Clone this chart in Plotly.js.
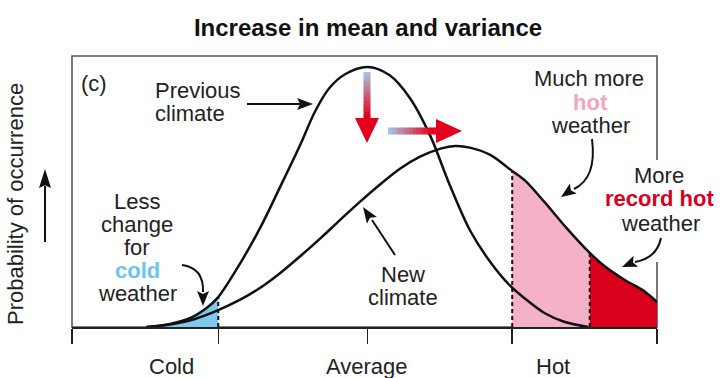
<!DOCTYPE html>
<html><head><meta charset="utf-8">
<script src="https://cdn.plot.ly/plotly-3.0.1.min.js"></script>
<style>html,body{margin:0;padding:0;background:#fff}#chart{width:720px;height:378px}</style>
</head><body><div id="chart"></div>
<script>
// Temperature axis (arbitrary units, Average = 0) and probability of occurrence (previous peak = 100)
const prevX = [-1.49,-1.33,-1.19,-1.08,-1.00,-0.85,-0.71,-0.58,-0.44,-0.34,-0.24,-0.13,0.02,0.17,0.31,0.45,0.58,0.72,0.86,0.99,1.10,1.23,1.37,1.53];
const prevY = [0,1.2,3.5,7.3,11.5,24.5,38.5,53.5,70.0,82.7,91.9,97.3,100,96.9,88.1,73.5,55.0,37.3,25.0,16.2,10.8,5.4,1.9,0];
const newX = [-1.49,-1.33,-1.16,-1.00,-0.85,-0.71,-0.58,-0.44,-0.30,-0.17,-0.03,0.11,0.24,0.38,0.52,0.62,0.72,0.86,1.01,1.10,1.23,1.37,1.54,1.64,1.78,1.92,2.00];
const newY = [0,1.0,3.1,6.5,10.5,15.2,20.6,27.2,34.2,41.0,48.2,55.0,60.8,65.5,68.6,69.6,69.0,66.2,60.0,56.2,48.1,38.8,28.5,23.5,18.1,13.5,9.6];
// Category thresholds on the temperature axis
const coldEdge = -1.00, hotEdge = 1.01, recordEdge = 1.54;
const tickPositions = [-2, -1.00, 0.02, 1.01, 2];
const categoryLabels = ['Cold', 'Average', 'Hot'];
const categoryLabelX = [-1.32, 0.02, 1.29];

const FONT = 'Liberation Sans, Arial, sans-serif';
const TXT = '#222';
// pixel -> paper helpers (plot area 72..657 x 56..327)
const L = 72, R = 63, T = 56, B = 51, W = 720, H = 378;
const PW = W - L - R, PH = H - T - B;
const px = x => (x - L) / PW;
const py = y => (H - B - y) / PH;

function pick(xs, ys, lo, hi) {
  const X = [], Y = [];
  xs.forEach((x, i) => { if (x >= lo - 1e-9 && x <= hi + 1e-9) { X.push(x); Y.push(ys[i]); } });
  return {X, Y};
}
const valueAt = (xs, ys, x) => ys[xs.indexOf(x)];
const SPL = {shape: 'spline', smoothing: 0.9};

const cold = pick(prevX, prevY, -9, coldEdge);
const hot = pick(newX, newY, hotEdge, recordEdge);
const rec = pick(newX, newY, recordEdge, 9);

const traces = [
  {x: cold.X, y: cold.Y, mode: 'lines', line: Object.assign({width: 0}, SPL), fill: 'tozeroy', fillcolor: '#80C9EE'},
  {x: hot.X, y: hot.Y, mode: 'lines', line: Object.assign({width: 0}, SPL), fill: 'tozeroy', fillcolor: '#F5B1C7'},
  {x: rec.X, y: rec.Y, mode: 'lines', line: Object.assign({width: 0}, SPL), fill: 'tozeroy', fillcolor: '#D8001C'},
  {x: [coldEdge, coldEdge], y: [0, valueAt(prevX, prevY, coldEdge)], mode: 'lines', line: {color: '#111', width: 2, dash: '4px,3px'}},
  {x: [hotEdge, hotEdge], y: [0, valueAt(newX, newY, hotEdge)], mode: 'lines', line: {color: '#111', width: 2, dash: '4px,3px'}},
  {x: [recordEdge, recordEdge], y: [0, valueAt(newX, newY, recordEdge)], mode: 'lines', line: {color: '#111', width: 2, dash: '4px,3px'}},
  {x: prevX, y: prevY, mode: 'lines', line: Object.assign({color: '#111', width: 2.5}, SPL)},
  {x: newX, y: newY, mode: 'lines', line: Object.assign({color: '#111', width: 2.5}, SPL)}
].map(t => Object.assign({type: 'scatter', hoverinfo: 'skip', showlegend: false}, t));

function txt(t, x, y, o) {
  return Object.assign({text: t, xref: 'paper', yref: 'paper', x: px(x), y: py(y), xanchor: 'center', yanchor: 'middle',
    showarrow: false, font: {family: FONT, size: 22, color: TXT}}, o || {});
}
const annotations = [
  txt('(c)', 94, 83),
  txt('Previous', 153, 90, {xanchor: 'left'}),
  txt('climate', 153, 113, {xanchor: 'left'}),
  txt('Less', 137, 201), txt('change', 137, 224), txt('for', 137, 247),
  txt('<b>cold</b>', 137, 270, {font: {family: FONT, size: 22, color: '#6EC3EC'}}),
  txt('weather', 137, 293),
  txt('New', 403, 274), txt('climate', 403, 297),
  txt('Much more', 589, 79),
  txt('<b>hot</b>', 590, 102, {font: {family: FONT, size: 22, color: '#F4A4BF'}}),
  txt('weather', 590, 125),
  txt('More', 659, 175),
  txt('<b>record hot</b>', 659, 198, {font: {family: FONT, size: 22, color: '#D8001C'}}),
  txt('weather', 660, 223),
  txt('Probability of occurrence', 16, 204, {textangle: -90})
];
categoryLabels.forEach((lab, i) => {
  annotations.push({text: lab, xref: 'x', yref: 'paper', x: categoryLabelX[i], y: py(366), xanchor: 'center', yanchor: 'middle',
    showarrow: false, font: {family: FONT, size: 22, color: TXT}});
});

// decoration helpers (pixel coords)
const P = (x, y) => px(x).toFixed(5) + ',' + py(y).toFixed(5);
function head(tx, ty, dx, dy, len, hw, color, notch) {
  const m = Math.hypot(dx, dy), ux = dx / m, uy = dy / m, nx = -uy, ny = ux;
  const bx = tx - len * ux, by = ty - len * uy;
  const k = notch || 0;
  const path = 'M' + P(tx, ty) + ' L' + P(bx + hw * nx, by + hw * ny) + ' L' + P(bx + k * len * ux, by + k * len * uy) +
    ' L' + P(bx - hw * nx, by - hw * ny) + ' Z';
  return {type: 'path', xref: 'paper', yref: 'paper', path, fillcolor: color, line: {width: 0}, layer: 'above'};
}
function seg(x0, y0, x1, y1, color, w) {
  return {type: 'line', xref: 'paper', yref: 'paper', x0: px(x0), y0: py(y0), x1: px(x1), y1: py(y1), line: {color, width: w}, layer: 'above'};
}
function curve(x0, y0, cx, cy, x1, y1) {
  return {type: 'path', xref: 'paper', yref: 'paper', path: 'M' + P(x0, y0) + ' Q' + P(cx, cy) + ' ' + P(x1, y1),
    line: {color: '#111', width: 2}, fillcolor: 'rgba(0,0,0,0)', layer: 'above'};
}
function mix(t) {
  const a = [160, 210, 238], b = [226, 0, 28];
  return 'rgb(' + a.map((v, i) => Math.round(v + (b[i] - v) * t)).join(',') + ')';
}

const shapes = [
  {type: 'rect', xref: 'paper', yref: 'paper', x0: 0, y0: 0, x1: 1, y1: 1, line: {color: '#555', width: 1.6}, layer: 'below'},
  {type: 'rect', xref: 'paper', yref: 'paper', x0: px(649), x1: px(666), y0: py(262), y1: py(160), fillcolor: '#fff', line: {width: 0}, layer: 'above'},
  // y-axis arrow
  seg(45, 242, 45, 186, '#111', 2), head(45, 169, 0, -1, 19, 6, '#111', 0.15),
  // previous climate arrow
  seg(247, 104, 300, 104, '#111', 2), head(313, 104, 1, 0, 16, 6, '#111', 0.2),
  // new climate arrow
  seg(395, 255, 372, 220, '#111', 2), head(363, 207, -32, -48, 16, 6, '#111', 0.2),
  // cold arrow
  curve(182, 265, 204, 268, 203, 292), head(203, 306, 0, 1, 15, 6, '#111', 0.2),
  // hot arrow
  curve(592, 139, 597, 178, 574, 189), head(561, 197, -13, 9, 15, 6, '#111', 0.2),
  // record hot arrow
  curve(661, 238, 657, 258, 635, 262), head(622, 267, -12, 5, 15, 6, '#111', 0.2)
];
// gradient arrows (blue -> red)
const N = 14;
for (let i = 0; i < N; i++) {
  const t0 = i / N, t1 = (i + 1) / N;
  shapes.push(seg(367, 72 + 50 * t0, 367, 72 + 50 * t1 + 0.5, mix(Math.min(1, t1 * 1.1)), 7));
  shapes.push(seg(388 + 50 * t0, 131, 388 + 50 * t1 + 0.5, 131, mix(Math.min(1, t1 * 1.1)), 7));
}
shapes.push(head(367, 143, 0, 1, 25, 12, '#E2001C', 0));
shapes.push(head(462, 131, 1, 0, 26, 12, '#E2001C', 0));

const layout = {
  width: W, height: H,
  margin: {l: L, r: R, t: T, b: B, pad: 0},
  paper_bgcolor: '#fff', plot_bgcolor: '#fff',
  title: {text: '<b>Increase in mean and variance</b>', xref: 'container', yref: 'container', x: 368 / W, y: 1 - 28 / H,
    xanchor: 'center', yanchor: 'middle', font: {family: FONT, size: 24, color: '#111'}},
  xaxis: {range: [-2, 2], tickvals: tickPositions, ticks: 'outside', ticklen: 15, tickwidth: 1.5, tickcolor: '#222',
    showticklabels: false, showline: true, linecolor: '#222', linewidth: 1.5, showgrid: false, zeroline: false, fixedrange: true},
  yaxis: {range: [0, 104.23], visible: false, fixedrange: true},
  annotations, shapes, showlegend: false
};
Plotly.newPlot('chart', traces, layout, {staticPlot: true, displayModeBar: false});
</script></body></html>
